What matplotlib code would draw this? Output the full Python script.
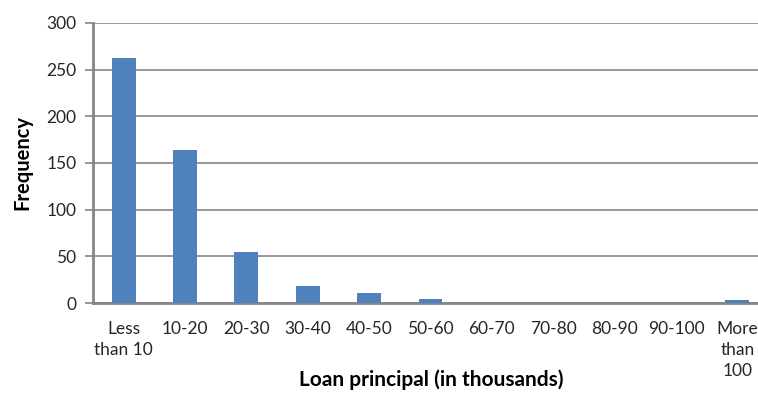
import matplotlib
matplotlib.use("Agg")
import matplotlib.pyplot as plt

categories = ["Less\nthan 10", "10-20", "20-30", "30-40", "40-50", "50-60",
              "60-70", "70-80", "80-90", "90-100", "More\nthan\n100"]
frequency = [263, 164, 55, 18, 11, 4, 0, 0, 0, 0, 3]
y_ticks = [0, 50, 100, 150, 200, 250, 300]

plt.rcParams["font.family"] = ["Lato", "DejaVu Sans"]

fig = plt.figure(figsize=(7.58, 3.93), dpi=100)
W, H = 758, 393
left, right, top, bottom = 93, 768, 23, 303
ax = fig.add_axes([left / W, 1 - bottom / H, (right - left) / W, (bottom - top) / H])

x = list(range(len(categories)))
ax.bar(x, frequency, width=0.39, color="#4F81BD", zorder=3)

ax.set_xlim(-0.5, len(categories) - 0.5)
ax.set_ylim(0, 300)
ax.set_yticks(y_ticks)
ax.set_xticks(x)
ax.set_xticklabels(categories, fontsize=12.5, color="#262626", linespacing=1.38, va="top")
ax.tick_params(axis="x", length=0, pad=13)
ax.tick_params(axis="y", length=6, width=1.2, color="#868686", labelsize=12.5,
               labelcolor="#262626", pad=6)

ax.yaxis.grid(True, color="#868686", linewidth=1.2, zorder=0)
ax.set_axisbelow(True)

for s in ("top", "right"):
    ax.spines[s].set_visible(False)
for s in ("left", "bottom"):
    ax.spines[s].set_color("#868686")
    ax.spines[s].set_linewidth(2)

fig.text(431 / W, 1 - 380 / H, "Loan principal (in thousands)", fontsize=15,
         fontweight="bold", ha="center", va="center")
fig.text(22 / W, 1 - 162 / H, "Frequency", fontsize=14.5, fontweight="bold",
         rotation=90, ha="center", va="center")

fig.savefig("out.png", dpi=100)
